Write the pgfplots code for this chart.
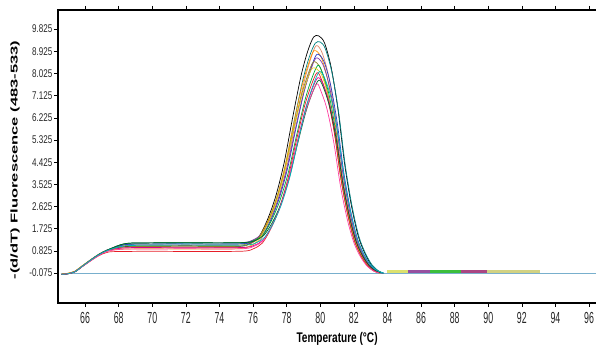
\documentclass[border=0pt]{standalone}
\usepackage{graphicx}
\usepackage{pgfplots}
\pgfplotsset{compat=1.18}
\usepackage{fontspec}
\setmainfont{Liberation Sans}
\newfontfamily\ytf[FakeStretch=0.72]{Liberation Sans}
\newfontfamily\xtf[FakeStretch=0.55]{Liberation Sans}
\newfontfamily\lbf[FakeStretch=0.72]{Liberation Sans}
\definecolor{cA}{RGB}{0,0,0}
\definecolor{cB}{RGB}{0,128,128}
\definecolor{cC}{RGB}{225,140,110}
\definecolor{cD}{RGB}{255,150,0}
\definecolor{cE}{RGB}{40,60,200}
\definecolor{cF}{RGB}{130,60,170}
\definecolor{cG}{RGB}{140,130,40}
\definecolor{cH}{RGB}{0,170,60}
\definecolor{cI}{RGB}{230,200,30}
\definecolor{cJ}{RGB}{230,30,40}
\definecolor{cK}{RGB}{220,0,140}
\definecolor{cL}{RGB}{0,100,40}
\definecolor{cM}{RGB}{255,60,160}
\definecolor{cN}{RGB}{0,180,190}
\definecolor{base}{RGB}{120,175,205}
\definecolor{tkhaki}{RGB}{210,210,130}
\definecolor{tyel}{RGB}{220,225,110}
\definecolor{tpur}{RGB}{150,80,160}
\definecolor{tgrn}{RGB}{60,190,60}
\definecolor{tmag}{RGB}{170,70,130}
\definecolor{tdkg}{RGB}{30,80,40}
\begin{document}
\begin{tikzpicture}
\begin{axis}[name=ax,
  scale only axis, width=544pt, height=293pt,
  xmin=64.39, xmax=96.77, ymin=-1.29, ymax=10.60,
  axis line style={line width=1.2pt, black},
  xtick={66,68,70,72,74,76,78,80,82,84,86,88,90,92,94,96},
  xticklabels={66,68,70,72,74,76,78,80,82,84,86,88,90,92,94,96},
  ytick={-0.075,0.825,1.725,2.625,3.525,4.425,5.325,6.225,7.125,8.025,8.925,9.825},
  yticklabels={-0.075,0.825,1.725,2.625,3.525,4.425,5.325,6.225,7.125,8.025,8.925,9.825},
  tick align=outside, major tick length=4pt,
  tick style={black, line width=0.5pt},
  xticklabel style={font=\xtf\fontsize{16}{16}\selectfont, inner sep=1pt, yshift=-4pt, text=black!85},
  yticklabel style={font=\ytf\fontsize{11.2}{11.2}\selectfont, inner sep=1.5pt, text=black!85},
  xlabel={Temperature (°C)},
  xlabel style={at={(axis description cs:0.513,0)}, anchor=center, yshift=-36pt, font=\lbf\bfseries\fontsize{14}{14}\selectfont},
  ylabel={\scalebox{1}[0.6]{-(d/dT) Fluorescence (483-533)}},
  ylabel style={at={(axis description cs:-0.079,0.488)}, anchor=center, rotate=0, font=\bfseries\fontsize{16.5}{16.5}\selectfont},
  every axis plot/.append style={no marks, line width=0.7pt, smooth},
]
\addplot[base, line width=0.9pt, sharp plot] coordinates {(64.55,-0.075)(96.77,-0.075)};
% tails after melting
\addplot[tdkg, line width=2.4pt, sharp plot] coordinates {(86.0,-0.03)(90.1,-0.03)};
\addplot[tkhaki, line width=2.6pt, sharp plot] coordinates {(89.9,0.0)(93.1,0.0)};
\addplot[tmag, line width=2.6pt, sharp plot] coordinates {(88.3,0.0)(89.95,0.0)};
\addplot[tgrn, line width=2.6pt, sharp plot] coordinates {(86.5,0.0)(88.35,0.0)};
\addplot[tpur, line width=2.6pt, sharp plot] coordinates {(85.2,0.0)(86.55,0.0)};
\addplot[tyel, line width=2.6pt, sharp plot] coordinates {(84.0,0.0)(85.25,0.0)};
% melting curves
\addplot[cA] coordinates {(64.6,-0.13)(65.0,-0.09)(65.4,0.0)(65.8,0.2)(66.2,0.40)(66.8,0.68)(67.4,0.88)(68.4,1.0)(70,1.02)(72,1.03)(74,1.02)
 (75.35,1.02)(75.85,1.14)(76.35,1.40)(76.85,2.08)(77.35,3.04)(77.85,4.40)(78.35,6.21)(78.85,7.91)(79.25,8.92)(79.6,9.50)(79.9,9.55)
 (80.25,9.27)(80.65,8.27)(81.05,6.59)(81.45,4.36)(81.85,2.68)(82.25,1.45)(82.65,0.73)(83.05,0.25)(83.45,0.0)(83.75,-0.08)};
\addplot[cB] coordinates {(64.6,-0.13)(65.0,-0.1)(65.4,-0.02)(65.8,0.18)(66.2,0.38)(66.8,0.66)(67.4,0.88)(68.4,1.08)(70,1.1)(72,1.12)(74,1.1)
 (75.45,1.12)(75.95,1.23)(76.45,1.48)(76.95,2.13)(77.45,3.05)(77.95,4.36)(78.45,6.10)(78.95,7.72)(79.35,8.70)(79.7,9.25)(80.0,9.30)
 (80.3,9.03)(80.7,8.05)(81.1,6.42)(81.5,4.24)(81.9,2.61)(82.3,1.41)(82.7,0.71)(83.1,0.24)(83.5,0.0)(83.8,-0.08)};
\addplot[cC] coordinates {(64.6,-0.13)(65.0,-0.1)(65.4,-0.02)(65.8,0.17)(66.2,0.37)(66.8,0.65)(67.4,0.85)(68.4,0.95)(70,0.96)(72,0.95)(74,0.96)
 (75.5,0.97)(76.0,1.08)(76.5,1.33)(77.0,1.98)(77.5,2.90)(78.0,4.21)(78.5,5.95)(79.0,7.57)(79.4,8.55)(79.75,9.15)
 (80.1,8.88)(80.5,7.92)(80.9,6.31)(81.3,4.17)(81.7,2.57)(82.1,1.39)(82.5,0.70)(82.9,0.24)(83.3,0.0)(83.6,-0.07)};
\addplot[cD] coordinates {(64.6,-0.12)(65.0,-0.08)(65.4,0.0)(65.8,0.2)(66.2,0.39)(66.8,0.67)(67.4,0.87)(68.4,1.04)(70,1.05)(72,1.06)(74,1.05)
 (75.38,1.07)(75.88,1.18)(76.38,1.42)(76.88,2.04)(77.38,2.93)(77.88,4.19)(78.38,5.86)(78.88,7.43)(79.28,8.37)(79.63,8.95)
 (80.05,8.69)(80.45,7.75)(80.85,6.18)(81.25,4.08)(81.65,2.51)(82.05,1.36)(82.45,0.68)(82.85,0.23)(83.25,0.0)(83.55,-0.07)};
\addplot[cE] coordinates {(64.6,-0.13)(65.0,-0.1)(65.4,-0.02)(65.8,0.18)(66.2,0.38)(66.8,0.66)(67.4,0.86)(68.4,1.08)(70,1.1)(72,1.1)(74,1.1)
 (75.55,1.12)(76.05,1.22)(76.55,1.46)(77.05,2.07)(77.55,2.94)(78.05,4.16)(78.55,5.79)(79.05,7.32)(79.45,8.24)(79.8,8.80)
 (80.2,8.54)(80.6,7.61)(81.0,6.07)(81.4,4.01)(81.8,2.47)(82.2,1.34)(82.6,0.67)(83.0,0.23)(83.4,0.0)(83.7,-0.07)};
\addplot[cF] coordinates {(64.6,-0.13)(65.0,-0.1)(65.4,-0.01)(65.8,0.19)(66.2,0.39)(66.8,0.67)(67.4,0.88)(68.4,1.12)(70,1.15)(72,1.16)(74,1.15)
 (75.5,1.17)(76.0,1.27)(76.5,1.50)(77.0,2.09)(77.5,2.94)(78.0,4.13)(78.5,5.72)(79.0,7.21)(79.4,8.10)(79.75,8.65)
 (80.15,8.40)(80.55,7.49)(80.95,5.97)(81.35,3.95)(81.75,2.43)(82.15,1.32)(82.55,0.66)(82.95,0.22)(83.35,0.0)(83.65,-0.07)};
\addplot[cG] coordinates {(64.6,-0.13)(65.0,-0.1)(65.4,-0.02)(65.8,0.18)(66.2,0.38)(66.8,0.66)(67.4,0.86)(68.4,0.99)(70,1.0)(72,1.01)(74,1.0)
 (75.35,1.02)(75.85,1.12)(76.35,1.35)(76.85,1.94)(77.35,2.79)(77.85,3.98)(78.35,5.57)(78.85,7.06)(79.25,7.95)(79.6,8.50)
 (80.0,8.25)(80.4,7.36)(80.8,5.86)(81.2,3.88)(81.6,2.39)(82.0,1.29)(82.4,0.65)(82.8,0.22)(83.2,0.0)(83.5,-0.07)};
\addplot[cH] coordinates {(64.6,-0.13)(65.0,-0.1)(65.4,-0.02)(65.8,0.18)(66.2,0.38)(66.8,0.66)(67.4,0.87)(68.4,1.12)(70,1.15)(72,1.16)(74,1.15)
 (75.6,1.17)(76.1,1.26)(76.6,1.48)(77.1,2.06)(77.6,2.87)(78.1,4.01)(78.6,5.54)(79.1,6.97)(79.5,7.83)(79.85,8.35)
 (80.1,8.11)(80.5,7.23)(80.9,5.76)(81.3,3.81)(81.7,2.34)(82.1,1.27)(82.5,0.64)(82.9,0.21)(83.3,0.0)(83.6,-0.07)};
\addplot[cI] coordinates {(64.6,-0.12)(65.0,-0.08)(65.4,0.0)(65.8,0.2)(66.2,0.39)(66.8,0.66)(67.4,0.84)(68.4,0.9)(70,0.91)(72,0.9)(74,0.9)
 (75.3,0.92)(75.8,1.02)(76.3,1.24)(76.8,1.83)(77.3,2.65)(77.8,3.82)(78.3,5.38)(78.8,6.84)(79.2,7.72)(79.55,8.25)
 (80.05,8.01)(80.45,7.14)(80.85,5.69)(81.25,3.76)(81.65,2.32)(82.05,1.25)(82.45,0.63)(82.85,0.21)(83.25,0.0)(83.55,-0.07)};
\addplot[cJ] coordinates {(64.6,-0.13)(65.0,-0.1)(65.4,-0.02)(65.8,0.17)(66.2,0.36)(66.8,0.62)(67.4,0.78)(68.4,0.8)(70,0.81)(72,0.8)(74,0.8)
 (75.55,0.82)(76.05,0.92)(76.55,1.14)(77.05,1.71)(77.55,2.53)(78.05,3.68)(78.55,5.22)(79.05,6.66)(79.45,7.52)(79.8,8.05)
 (80.05,7.82)(80.45,6.97)(80.85,5.56)(81.25,3.67)(81.65,2.26)(82.05,1.22)(82.45,0.61)(82.85,0.21)(83.25,0.0)(83.55,-0.07)};
\addplot[cK] coordinates {(64.6,-0.13)(65.0,-0.1)(65.4,-0.02)(65.8,0.18)(66.2,0.37)(66.8,0.65)(67.4,0.85)(68.4,0.95)(70,0.96)(72,0.95)(74,0.95)
 (75.6,0.97)(76.1,1.06)(76.6,1.27)(77.1,1.82)(77.6,2.60)(78.1,3.69)(78.6,5.15)(79.1,6.53)(79.5,7.35)(79.85,7.85)
 (80.15,7.62)(80.55,6.79)(80.95,5.42)(81.35,3.58)(81.75,2.20)(82.15,1.19)(82.55,0.60)(82.95,0.20)(83.35,0.0)(83.65,-0.07)};
\addplot[cL] coordinates {(64.6,-0.13)(65.0,-0.1)(65.4,-0.02)(65.8,0.18)(66.2,0.38)(66.8,0.67)(67.4,0.88)(68.4,1.12)(70,1.15)(72,1.16)(74,1.15)
 (75.65,1.17)(76.15,1.25)(76.65,1.46)(77.15,1.98)(77.65,2.72)(78.15,3.77)(78.65,5.17)(79.15,6.48)(79.55,7.27)(79.9,7.75)
 (80.15,7.52)(80.55,6.70)(80.95,5.35)(81.35,3.53)(81.75,2.17)(82.15,1.18)(82.55,0.59)(82.95,0.20)(83.35,0.0)(83.65,-0.07)};
\addplot[cM] coordinates {(64.6,-0.13)(65.0,-0.1)(65.4,-0.02)(65.8,0.17)(66.2,0.36)(66.8,0.63)(67.4,0.82)(68.4,0.9)(70,0.9)(72,0.91)(74,0.9)
 (75.55,0.92)(76.05,1.01)(76.55,1.21)(77.05,1.74)(77.55,2.50)(78.05,3.56)(78.55,4.98)(79.05,6.31)(79.45,7.11)(79.8,7.60)
 (80.0,7.38)(80.4,6.58)(80.8,5.25)(81.2,3.47)(81.6,2.13)(82.0,1.16)(82.4,0.58)(82.8,0.20)(83.2,0.0)(83.5,-0.07)};
\addplot[cN] coordinates {(64.6,-0.13)(65.0,-0.1)(65.4,-0.02)(65.8,0.18)(66.2,0.38)(66.8,0.66)(67.4,0.86)(68.4,1.03)(70,1.05)(72,1.06)(74,1.05)
 (75.7,1.07)(76.2,1.16)(76.7,1.38)(77.2,1.94)(77.7,2.73)(78.2,3.85)(78.7,5.35)(79.2,6.75)(79.6,7.59)(79.95,8.10)
 (80.25,7.86)(80.65,7.01)(81.05,5.59)(81.45,3.69)(81.85,2.27)(82.25,1.23)(82.65,0.62)(83.05,0.21)(83.45,0.0)(83.75,-0.07)};
\end{axis}
\pgfresetboundingbox
\path ([xshift=-58pt,yshift=-44pt]ax.south west) rectangle ([xshift=-6pt,yshift=10pt]ax.north east);
\end{tikzpicture}
\end{document}
